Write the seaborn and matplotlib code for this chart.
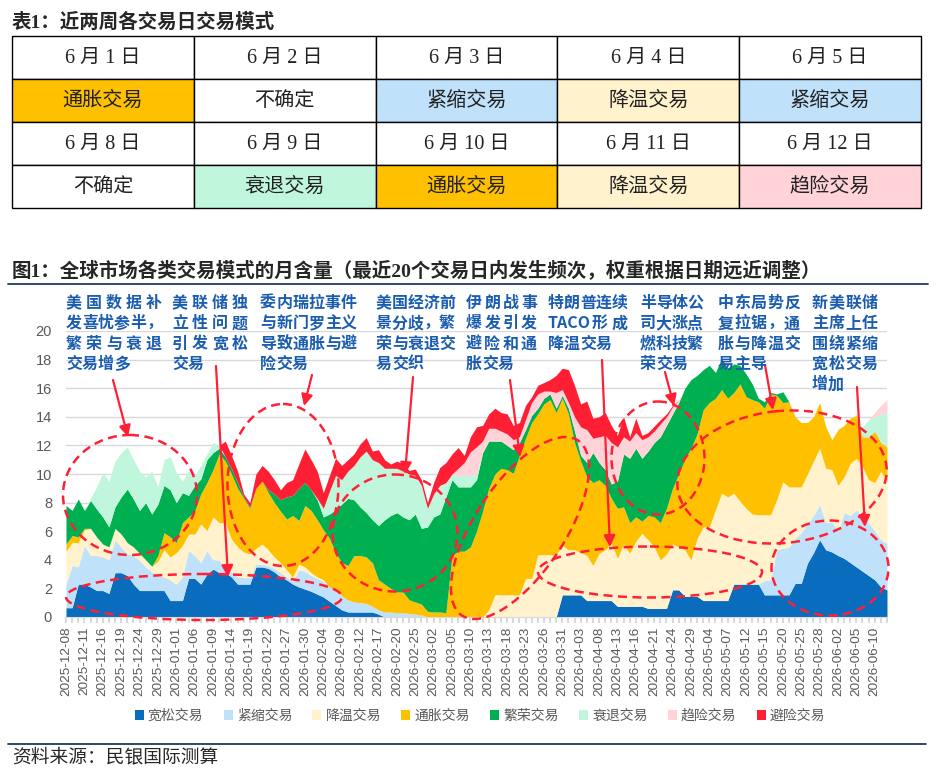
import re
import matplotlib
matplotlib.use("Agg")
import matplotlib.pyplot as plt
import matplotlib.transforms as mtransforms
from matplotlib.patches import Ellipse, Rectangle, FancyArrowPatch, Patch
from matplotlib.lines import Line2D
import numpy as np
import pandas as pd
import seaborn as sns

# ---------------- data ----------------
first_day, last_day = "2025-12-08", "2026-06-12"
dates = pd.bdate_range(first_day, last_day)
date_labels = [d.strftime("%Y-%m-%d") for d in dates]

names = ["宽松交易", "紧缩交易", "降温交易", "通胀交易", "繁荣交易", "衰退交易", "趋险交易", "避险交易"]

loose = [0.65, 0.65, 2.3, 2.3, 2.1, 1.85, 1.85, 1.65, 3.1, 3.1, 2.9, 2.3, 1.85, 1.85, 1.85,
         1.85, 1.85, 1.15, 1.15, 1.15, 2.7, 2.7, 2.3, 3.0, 3.35, 3.1, 3.1, 2.8, 2.3, 2.3, 2.3, 3.5, 3.5, 3.4,
         3.15, 2.8, 2.6, 2.3, 2.1, 1.95, 1.8, 1.6, 1.4, 1.1, 0.8, 0.5, 0.35, 0.35, 0.35, 0.35, 0.35, 0.2,
         0, 0, 0, 0, 0, 0, 0, 0, 0, 0, 0, 0, 0, 0, 0, 0, 0, 0, 0, 0, 0, 0, 0, 0, 0, 0, 0, 0, 0,
         1.55, 1.55, 1.55, 1.55, 1.15, 1.15, 1.15, 1.15, 1.15, 0.75, 0.75, 0.75, 0.75, 0.75, 0.6, 0.6, 0.6, 0.6, 1.9, 1.9,
         1.45, 1.45, 1.45, 1.15, 1.15, 1.15, 1.15, 1.15, 2.3, 2.3, 2.3, 2.3, 2.3, 1.55, 1.55, 1.55, 1.55, 1.55,
         2.35, 2.35, 3.75, 4.5, 5.4, 4.7, 4.55, 4.3, 4.1, 3.8, 3.5, 3.2, 2.9, 2.6, 2.1, 1.9]

tight = [1.65, 2.95, 1.2, 2.7, 2.2, 2.45, 2.35, 2.35, 2.3, 1.8, 1.5, 2.0, 2.1, 1.65, 1.3,
         1.05, 0.95, 1.45, 1.15, 1.65, 1.95, 1.6, 1.5, 1.65, 0.65, 0.85, 0.4, 0.35, 0.5, 0.45, 0.45, 0.2, 0.2, 0.2,
         0.25, 0.3, 0.2, 0.2, 1.2, 1.25, 1.1, 1.1, 1.1, 1.0, 1.05, 1.0, 0.85, 0.7, 0.65, 0.6, 0.4, 0.3, 0.35,
         0.35, 0.3, 0.3, 0.25, 0.2, 0.15,
         0, 0, 0, 0, 0, 0, 0, 0, 0, 0, 0, 0, 0, 0, 0, 0, 0, 0, 0, 0, 0, 0, 0, 0, 0, 0, 0, 0,
         0, 0, 0, 0, 0, 0, 0, 0, 0, 0, 0, 0, 0, 0, 0, 0, 0, 0, 0, 0, 0, 0, 0, 0, 0, 0, 0,
         1.0, 1.05, 3.15, 3.25, 3.35, 3.15, 3.55, 2.75, 2.6, 2.45, 1.9, 2.1, 1.7, 3.2, 3.3, 4.0, 3.8, 3.7,
         3.4, 3.3, 3.25]

cooling = [2.3, 1.6, 1.7, 1.1, 1.9, 1.3, 0.9, 0.9, 0.8, 0.9, 0.8, 0.6, 0.5, 0.5, 0.4,
           1.0, 1.9, 1.6, 2.2, 2.2, 1.15, 1.5, 2.7, 1.4, 3.0, 2.65, 3.1, 2.3, 2.1, 1.8, 1.65, 1.1, 1.4, 1.1,
           0.8, 0.7, 0.5, 0.3, 0.4, 0.3, 0.2, 0.1, 0.1,
           0, 0, 0, 0, 0, 0, 0, 0, 0, 0, 0, 0, 0, 0, 0, 0, 0, 0, 0, 0, 0, 0, 0, 0, 0, 0,
           0.5, 1.55, 1.55, 1.55, 1.55, 1.55, 2.7, 2.7, 4.35, 4.35, 4.35, 4.35,
           3.45, 3.15, 3.15, 2.95, 3.15, 2.45, 3.3, 3.55, 4.0, 3.35, 4.35, 3.7, 4.55, 5.1, 4.8, 4.3, 3.4,
           3.8, 3.2, 3.0,
           3.25, 2.55, 4.05, 5.15, 5.15, 6.35, 7.5, 7.25, 6.35, 5.8, 5.3, 4.9, 4.85, 4.6, 4.55, 3.5, 4.65,
           4.2, 3.6, 3.2, 3.5, 3.8, 3.95, 3.8, 3.65, 3.2, 2.5, 3.65, 3.6, 3.5, 3.0, 3.4, 4.8, 4.3]

inflation = [0.5, 0.5, 0.4, 0.1, 0, 0, 0, 0, 0, 0, 0, 0, 0, 0, 0,
             0.4, 1.2, 1.4, 0.7, 1.6, 1.2, 1.6, 2.1, 3.35, 3.3, 4.8, 4.3, 4.55, 4.1, 3.75, 3.2, 4.2, 4.4, 4.0,
             3.8, 3.6, 3.55, 4.3, 3.05, 4.3, 4.35, 4.0, 3.5, 3.4, 2.65, 2.3, 2.4, 3.25, 3.3, 3.25, 3.05, 2.1,
             1.95, 1.65, 1.45, 1.45, 0.95, 0.85, 0.75, 0.4, 0.35, 0.35, 0.3, 4.3, 4.6, 4.6, 4.9, 6.0, 7.4,
             8.5, 8.45, 8.85, 8.75, 8.5, 9.75, 9.8, 10.9, 9.85, 10.55, 10.85, 9.95,
             10.3, 9.5, 7.5, 6.4, 5.5, 5.8, 5.15, 4.5, 3.15, 3.5, 2.6, 2.15, 1.7, 0.85, 1.7, 2.1, 2.6, 3.2,
             3.9, 5.1,
             6.3, 7.8, 7.3, 8.2, 8.7, 7.8, 7.25, 6.9, 7.05, 8.2, 7.8, 8.0, 7.9, 7.45, 8.45, 7.3, 5.55, 5.95,
             4.9, 4.5, 3.6, 3.1, 3.2, 2.9, 2.1, 3.9, 3.6, 3.15, 3.0, 2.1, 3.0, 3.6, 2.0, 2.45]

boom = [2.7, 1.75, 2.65, 1.25, 1.95, 1.95, 1.9, 1.4, 1.5, 2.6, 3.75, 3.35, 3.0, 4.0, 3.65,
        3.6, 3.3, 3.3, 2.8, 2.1, 1.5, 1.8, 1.05, 1.6, 1.2, 0.4, 0.3, 0.4, 0.4, 0.1, 0.1, 0, 0, 0.2,
        0.6, 0.8, 1.55, 1.4, 2.25, 1.6, 1.45, 1.4, 0.9, 1.7, 3.0, 4.1, 4.7, 3.9, 3.4, 3.1, 3.0, 3.8,
        4.5, 5.1, 5.55, 5.25, 5.6, 6.15, 5.3, 5.9, 6.65, 6.85, 8.1, 5.3, 4.5, 4.5, 4.2, 3.6, 4.1,
        3.3, 2.3, 1.9, 1.7, 1.65, 0.9, 0.6, 0.5, 0.4, 0.4, 0.4, 0.3,
        0.2, 0.4, 0.8, 0.4, 1.0, 2.1, 1.2, 1.1, 1.0, 1.9, 3.7, 4.5, 4.8, 4.4, 4.5, 5.2, 6.0, 5.8, 5.2, 5.0,
        5.0, 4.8, 4.1, 2.8, 2.6, 1.8, 2.2, 2.1, 2.0, 1.3, 1.6, 1.1, 0.25, 0.45, 0.1, 0.1, 0.75, 0,
        0, 0, 0, 0, 0, 0, 0, 0, 0, 0, 0, 0, 0, 0, 0, 0]

recession = [0, 0, 0, 0, 0.15, 1.55, 3.1, 3.2, 3.2, 3.1, 2.95, 2.75, 2.75, 1.8, 3.0,
             1.2, 1.8, 2.3, 2.1, 0.8, 1.7, 0.7, 0.95, 0.4, 0.7, 0.2,
             0, 0, 0, 0, 0, 0, 0, 0, 0, 0, 0, 0, 0, 0, 0,
             0.1, 0.6, 1.6, 2.4, 1.7, 1.9, 2.4, 3.5, 4.3, 4.2, 4.4, 3.6, 3.3, 3.1, 3.2, 3.2, 2.7, 3.0,
             1.3, 1.6, 2.0, 1.0, 0.4, 0.8, 0.8, 0.8, 0.4,
             0, 0, 0, 0, 0, 0, 0, 0, 0, 0, 0, 0, 0, 0, 0, 0, 0, 0, 0, 0, 0, 0, 0, 0, 0, 0, 0, 0, 0, 0,
             0, 0, 0, 0, 0, 0, 0, 0, 0, 0, 0, 0, 0, 0, 0, 0, 0, 0, 0, 0, 0, 0, 0, 0, 0, 0, 0, 0, 0, 0, 0,
             0.1, 0.7, 1.2, 1.0, 2.0, 2.4]

risk_on = [0, 0, 0, 0, 0, 0, 0, 0, 0, 0, 0, 0, 0, 0, 0, 0, 0, 0, 0, 0, 0, 0, 0, 0, 0, 0, 0, 0, 0, 0, 0, 0,
           0, 0, 0, 0, 0, 0, 0, 0, 0, 0, 0, 0, 0, 0, 0, 0, 0, 0, 0, 0, 0, 0, 0, 0, 0, 0, 0, 0, 0, 0, 0, 0,
           0.5, 0.9, 1.65, 1.9, 0.8, 0.9, 0.9, 0.7, 0.8, 0.7, 0.4, 0.7, 0.9, 1.0, 0.5, 0.2, 1.1, 0.4, 0.4,
           1.0, 2.0, 2.3, 1.0, 1.8, 2.4, 2.9, 2.4, 1.2, 1.2, 1.1, 1.3, 1.0, 0.8, 0.9, 0.6, 0.5, 0.2,
           0, 0, 0, 0, 0, 0, 0, 0, 0, 0, 0, 0, 0, 0, 0, 0, 0, 0, 0, 0, 0, 0, 0, 0, 0, 0, 0, 0, 0, 0, 0,
           0.3, 0.6, 0.9]

risk_off = [0, 0, 0, 0, 0, 0, 0, 0, 0, 0, 0, 0, 0, 0, 0, 0, 0, 0, 0, 0, 0, 0, 0, 0, 0, 0,
            1.1, 0.9, 0.8, 0.2, 0.3, 1.0, 1.1, 1.3,
            1.0, 0.7, 1.0, 1.1, 1.7, 2.35, 2.1, 1.9, 1.1, 1.1, 1.2, 1.0, 0.8, 0.8, 0.9, 0.95, 0.6, 0.9,
            0.6, 0.3, 0.5, 0.5, 0.25, 0.45, 0.4, 0.4, 0.8, 1.25, 1.4, 1.4,
            1.45, 0.5, 1.05, 1.4, 1.1, 1.0, 1.4, 1.3, 1.4, 1.0, 1.0, 1.0, 0.4, 0.6, 0.6, 0.8, 1.2, 1.5, 2.3,
            2.2, 1.6, 2.0, 1.4, 1.4, 1.6, 1.2, 0.8, 1.4, 0.3, 1.0, 0.3, 0.3, 0.35, 0.3, 0.2, 0.1, 0,
            0, 0, 0, 0, 0, 0, 0, 0, 0, 0, 0, 0, 0, 0, 0, 0, 0, 0, 0, 0, 0, 0, 0, 0, 0, 0, 0, 0, 0, 0, 0,
            0, 0, 0]

# table of the last two weeks
table_month = 6
week1_days = [1, 2, 3, 4, 5]
week1_modes = ["通胀交易", "不确定", "紧缩交易", "降温交易", "紧缩交易"]
week2_days = [8, 9, 10, 11, 12]
week2_modes = ["不确定", "衰退交易", "通胀交易", "降温交易", "趋险交易"]

notes = [
    ["美国数据补", "发喜忧参半，", "繁荣与衰退", "交易增多"],
    ["美联储独", "立性问题", "引发宽松", "交易"],
    ["委内瑞拉事件", "与新门罗主义", "导致通胀与避", "险交易"],
    ["美国经济前", "景分歧，繁", "荣与衰退交", "易交织"],
    ["伊朗战事", "爆发引发", "避险和通", "胀交易"],
    ["特朗普连续", "TACO 形成", "降温交易"],
    ["半导体公", "司大涨点", "燃科技繁", "荣交易"],
    ["中东局势反", "复拉锯，通", "胀与降温交", "易主导"],
    ["新美联储", "主席上任", "围绕紧缩", "宽松交易", "增加"],
]

# ---------------- style ----------------
colors = ["#0A6CBD", "#BFE1FA", "#FFF2CC", "#FFC000", "#00B050", "#C0F7DC", "#FFD3D8", "#FF1F35"]
cell_colors = dict(zip(names, colors))
cell_colors["不确定"] = "white"
grey_txt = "#595959"
red = "#FF2035"
note_blue = "#1A5DB0"
navy = "#1F3864"

sns.set_theme(style="white")
plt.rcParams["font.family"] = ["Noto Sans CJK SC", "DejaVu Sans"]
plt.rcParams["axes.unicode_minus"] = False

W, H = 936, 770
fig = plt.figure(figsize=(W / 100, H / 100), dpi=100)
px = mtransforms.Affine2D().scale(1 / W, -1 / H).translate(0, 1) + fig.transFigure
serif_cjk = ["Liberation Serif", "Noto Sans CJK SC"]

# titles / rules / source
fig.text(12, 22, "表1：近两周各交易日交易模式", transform=px, fontsize=14, weight="bold",
         va="center", family=serif_cjk)
fig.text(12, 270, "图1：全球市场各类交易模式的月含量（最近20个交易日内发生频次，权重根据日期远近调整）",
         transform=px, fontsize=14, weight="bold", va="center", family=serif_cjk)
fig.add_artist(Line2D([8, 928], [284, 284], transform=px, color=navy, lw=1.3))
fig.add_artist(Line2D([8, 926], [744, 744], transform=px, color=navy, lw=1.3))
fig.text(12, 757, "资料来源：民银国际测算", transform=px, fontsize=13.5, va="center")

# ---------------- table ----------------
tab = fig.add_axes([12 / W, 1 - 208 / H, 909 / W, 172 / H])
tab.set_xlim(0, 5)
tab.set_ylim(4, 0)
tab.axis("off")
rows = [[f"{table_month} 月 {d} 日" for d in week1_days], week1_modes,
        [f"{table_month} 月 {d} 日" for d in week2_days], week2_modes]
for r, row in enumerate(rows):
    for c, txt in enumerate(row):
        face = cell_colors.get(txt, "white")
        tab.add_patch(Rectangle((c, r), 1, 1, facecolor=face, edgecolor="black", lw=1.0, clip_on=False))
        tab.text(c + 0.5, r + 0.52, txt, ha="center", va="center", fontsize=14.5, color="#222222",
                 family=serif_cjk)

# ---------------- area chart ----------------
ax = fig.add_axes([66 / W, 1 - 617 / H, 821 / W, 286 / H])
x = np.arange(len(dates))
series = [loose, tight, cooling, inflation, boom, recession, risk_on, risk_off]
ax.stackplot(x, *series, colors=colors, labels=names, lw=0)
ax.set_xlim(0, len(x) - 1)
ax.set_ylim(0, 20)
ax.set_yticks(range(0, 21, 2))
ax.yaxis.grid(True, color="#D9D9D9", lw=1)
ax.xaxis.grid(False)
ax.set_axisbelow(True)
ax.set_xticks(x)
ax.set_xticklabels([lab if i % 3 == 0 else "" for i, lab in enumerate(date_labels)],
                   rotation=90, fontsize=9.7, color=grey_txt, family="Liberation Sans")
ax.tick_params(axis="x", length=4, width=1.5, color="#D9D9D9", pad=3, bottom=True)
ax.tick_params(axis="y", length=0, pad=10, labelsize=10.5, labelcolor=grey_txt)
for lab in ax.get_yticklabels():
    lab.set_family("Liberation Sans")
sns.despine(ax=ax, left=True)
ax.spines["bottom"].set_color("#D9D9D9")
ax.spines["bottom"].set_linewidth(0.8)

handles = [Patch(facecolor=c, edgecolor="none") for c in colors]
fig.legend(handles, names, loc="center", bbox_to_anchor=(480 / W, 1 - 716 / H), ncol=8,
           frameon=False, fontsize=10, handlelength=0.65, handleheight=0.65, handletextpad=0.3,
           columnspacing=1.45, labelcolor=grey_txt)

# ---------------- annotations ----------------
note_x = [(66, 162), (172, 248), (260, 357), (376, 455), (466, 537), (548, 628), (640, 703),
          (718, 800), (812, 878)]
note_size = 11.5
em = note_size * 100 / 72
for (x0, x1), lines in zip(note_x, notes):
    for k, line in enumerate(lines):
        toks = re.findall(r"[A-Za-z]+|\S", line)
        widths = [len(t) * 0.62 * em if t.isascii() else em for t in toks]
        gap = 0
        if k < len(lines) - 1 and len(toks) > 1:
            gap = (x1 - x0 - sum(widths)) / (len(toks) - 1)
        xx = x0
        y = 303 + k * 20.3
        for t, w in zip(toks, widths):
            fig.text(xx, y, t, transform=px, fontsize=note_size, weight="bold", color=note_blue,
                     va="center", ha="left")
            xx += w + gap

arrows = [(113, 380, 128, 437), (216, 366, 228, 577), (312, 375, 304, 406), (413, 377, 405, 474),
          (510, 380, 520, 457), (602, 360, 610, 547), (665, 372, 674, 406), (765, 365, 773, 410),
          (857, 387, 865, 527)]
for xa, ya, xb, yb in arrows:
    fig.add_artist(FancyArrowPatch((xa, ya), (xb, yb), transform=px, arrowstyle="-|>",
                                   mutation_scale=17, color=red, lw=1.6, shrinkA=0, shrinkB=0))

rings = [(130, 495, 134, 120, 0), (204, 597, 276, 46, 0), (283, 485, 111, 162, 0),
         (395, 533, 125, 117, 0), (520, 528, 210, 90, -56.5), (650, 572, 224, 51, 0),
         (658, 458, 93, 113, 0), (782, 477, 210, 132, -6), (830, 568, 117, 95, 0)]
for cx, cy, w, h, a in rings:
    fig.add_artist(Ellipse((cx, cy), w, h, angle=a, transform=px, fill=False, ec=red, lw=1.8,
                           ls=(0, (3.6, 2.2))))

fig.savefig("out.png", dpi=100)
